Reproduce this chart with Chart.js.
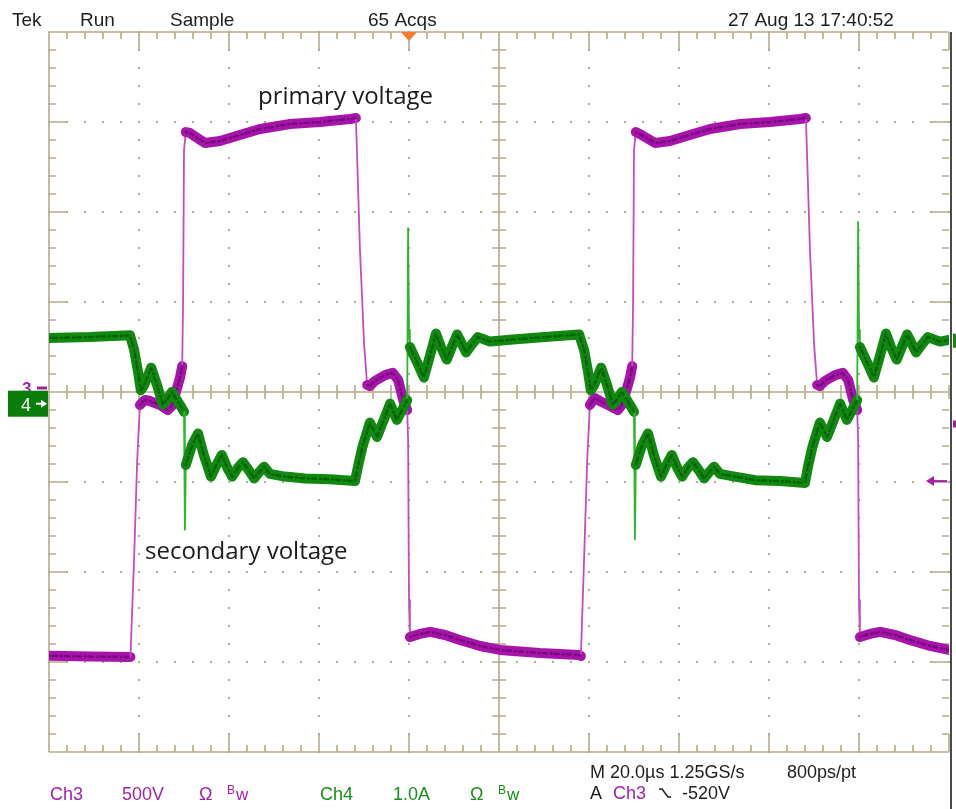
<!DOCTYPE html>
<html>
<head>
<meta charset="utf-8">
<title>Primary and secondary voltage</title>
<script src="https://cdn.jsdelivr.net/npm/chart.js@4.4.1/dist/chart.umd.min.js"></script>
<style>
html,body{margin:0;padding:0;background:#fff;overflow:hidden;}
#scope{display:block;}
</style>
</head>
<body>
<canvas id="scope" width="956" height="809"></canvas>
<script>
// Ch3 (primary voltage) samples: time in µs, value in volts
const ch3Time = [
  0, 9.1, 18.1, 18.9, 19.6, 20.2, 21.3, 22.4, 24.7, 26.4, 27.3, 28.2, 29.1, 29.6, 29.8, 30.0, 30.4, 31.3,
  34.7, 38.0, 42.4, 46.9, 53.6, 60.2, 66.9, 68.2, 68.7, 69.1, 69.6, 70.0, 70.7, 71.3, 72.4, 74.7, 76.4,
  77.6, 78.7, 79.6, 79.8, 80.0, 80.2, 82.4, 84.7, 88.0, 91.3, 95.8, 100.2, 109.1, 117.8,
  118.2, 118.9, 119.6, 120.2, 121.3, 122.4, 124.7, 126.4, 127.3, 128.2, 129.1, 129.6, 129.8, 130.0, 130.4,
  131.3, 134.7, 138.0, 142.4, 146.9, 153.6, 160.2, 166.9, 168.2, 168.7, 169.1, 169.6, 170.0, 170.7, 171.3,
  172.4, 174.7, 176.4, 177.6, 178.7, 179.6, 179.8, 180.0, 180.2, 182.4, 184.7, 188.0, 191.3, 195.8, 200.0
];
const ch3Volts = [
  -1490, -1495, -1497, -958, -403, -97, -69, -75, -97, -125, -103, -25, 53, 119, 486, 1319, 1419, 1414,
  1358, 1369, 1403, 1436, 1464, 1475, 1492, 1497, 1097, 764, 486, 247, 14, 8, 36, 69, 81,
  42, -69, -125, -292, -1181, -1386, -1369, -1358, -1375, -1403, -1436, -1458, -1475, -1486,
  -1492, -958, -403, -97, -58, -75, -103, -125, -97, -25, 53, 119, 486, 1319, 1419,
  1408, 1358, 1369, 1403, 1436, 1464, 1475, 1492, 1497, 1097, 764, 486, 247, 14, 8,
  36, 69, 81, 42, -69, -125, -292, -1181, -1386, -1369, -1358, -1375, -1403, -1436, -1458
];

// Ch4 (secondary) samples: time in µs, value in amps
const ch4Time = [
  0, 9.1, 18.0, 18.9, 19.8, 20.4, 21.1, 22.7, 24.0, 25.3, 26.4, 27.3, 28.2, 29.3, 30.0, 30.2, 30.4, 31.8,
  33.1, 34.4, 36.0, 37.1, 38.4, 39.6, 40.7, 42.0, 43.1, 44.4, 45.6, 46.7, 47.8, 49.1, 52.4, 56.9, 62.4,
  68.0, 68.7, 69.6, 71.3, 72.9, 75.8, 77.3, 78.9, 79.6, 79.8, 80.0, 80.2, 81.8, 83.3, 84.7, 86.0, 87.1,
  88.4, 89.6, 90.7, 91.8, 92.7, 94.0, 95.3, 98.0, 102.4, 110.2, 117.8,
  118.9, 119.8, 120.4, 121.1, 122.7, 124.0, 125.3, 126.4, 127.3, 128.2, 129.3, 130.0, 130.2, 130.4, 131.8,
  133.1, 134.4, 136.0, 137.1, 138.4, 139.6, 140.7, 142.0, 143.1, 144.4, 145.6, 146.7, 147.8, 149.1, 152.4,
  156.9, 162.4, 168.0, 168.7, 169.6, 171.3, 172.9, 175.8, 177.3, 178.9, 179.6, 179.8, 180.0, 180.2, 181.8,
  183.3, 184.7, 186.0, 187.1, 188.4, 189.6, 190.7, 191.8, 192.7, 194.0, 195.3, 198.0, 200.0
];
const ch4Amps = [
  0.73, 0.74, 0.76, 0.60, 0.35, 0.15, 0.20, 0.40, 0.21, -0.01, 0.06, 0.13, 0.06, -0.03, -0.09, -1.40, -0.68, -0.46,
  -0.33, -0.57, -0.81, -0.69, -0.57, -0.71, -0.81, -0.71, -0.65, -0.74, -0.83, -0.76, -0.70, -0.78, -0.81, -0.83, -0.84,
  -0.86, -0.69, -0.49, -0.21, -0.37, 0.00, -0.18, -0.03, 0.04, 1.95, 0.82, 0.63, 0.46, 0.29, 0.54, 0.78, 0.63,
  0.49, 0.64, 0.77, 0.66, 0.57, 0.66, 0.74, 0.69, 0.71, 0.74, 0.77,
  0.60, 0.35, 0.15, 0.20, 0.40, 0.21, -0.01, 0.06, 0.13, 0.06, -0.03, -0.09, -1.51, -0.68, -0.46,
  -0.33, -0.57, -0.81, -0.69, -0.57, -0.71, -0.81, -0.71, -0.65, -0.74, -0.83, -0.76, -0.70, -0.78, -0.81,
  -0.85, -0.86, -0.88, -0.69, -0.49, -0.21, -0.37, 0.00, -0.18, -0.03, 0.04, 2.02, 0.82, 0.63, 0.46,
  0.29, 0.54, 0.78, 0.63, 0.49, 0.64, 0.77, 0.66, 0.57, 0.66, 0.74, 0.69, 0.71
];

// Acquisition settings
const timePerDivUs = 20;
const divisionsX = 10;
const divisionsY = 8;
const ch3VoltsPerDiv = 500;
const ch3PositionDiv = 0.05;
const ch4AmpsPerDiv = 1.0;
const ch4PositionDiv = -0.13;
const triggerTimeUs = 80;
const triggerLevelV = -520;

const GRID = '#b5ab8c';
const MAGENTA = '#a614aa';
const MAGENTA_DARK = 'rgba(105,8,112,0.75)';
const MAGENTA_EDGE = '#c04cc4';
const GREEN = '#11880f';
const GREEN_DARK = 'rgba(0,88,0,0.75)';
const GREEN_EDGE = '#2fb42f';
const MAG_TEXT = '#a41fa8';
const GRN_TEXT = '#169016';

const toPoints = (xs, ys) => xs.map((t, i) => ({ x: t, y: ys[i] }));
const ch3Points = toPoints(ch3Time, ch3Volts);
const ch4Points = toPoints(ch4Time, ch4Amps);

// fast edges are drawn as a thin trace, flat parts as a noisy band
const steep = c => Math.abs(c.p1.y - c.p0.y) > 8 * Math.max(Math.abs(c.p1.x - c.p0.x), 0.01);

const graticule = {
  id: 'graticule',
  beforeDatasetsDraw(chart) {
    const { ctx, chartArea: a, scales } = chart;
    const xs = scales.x, ys = scales.yd;
    const minorX = [], minorY = [];
    for (let i = 0; i <= divisionsX * 5; i++) minorX.push(xs.getPixelForValue(i * timePerDivUs / 5));
    for (let j = 0; j <= divisionsY * 5; j++) minorY.push(ys.getPixelForValue(-divisionsY / 2 + j / 5));
    const cx = xs.getPixelForValue(divisionsX / 2 * timePerDivUs);
    const cy = ys.getPixelForValue(0);
    ctx.save();
    ctx.fillStyle = GRID;
    // dotted major lines
    for (let i = 1; i < divisionsX; i++) {
      if (i === divisionsX / 2) continue;
      const px = xs.getPixelForValue(i * timePerDivUs);
      minorY.forEach(py => ctx.fillRect(Math.round(px) - 1, Math.round(py) - 1, 2, 2));
    }
    for (let j = 1; j < divisionsY; j++) {
      if (j === divisionsY / 2) continue;
      const py = ys.getPixelForValue(-divisionsY / 2 + j);
      minorX.forEach(px => ctx.fillRect(Math.round(px) - 1, Math.round(py) - 1, 2, 2));
    }
    ctx.strokeStyle = GRID;
    ctx.lineWidth = 1.6;
    ctx.beginPath();
    // frame
    ctx.moveTo(a.left, a.bottom); ctx.lineTo(a.left, a.top); ctx.lineTo(a.right, a.top);
    ctx.moveTo(a.left, a.bottom); ctx.lineTo(a.right, a.bottom);
    // centre cross
    ctx.moveTo(a.left, cy); ctx.lineTo(a.right, cy);
    ctx.moveTo(cx, a.top); ctx.lineTo(cx, a.bottom);
    minorX.forEach((px, i) => {
      const len = i % 5 === 0 ? 18 : 7;
      ctx.moveTo(px, a.top); ctx.lineTo(px, a.top + len);
      ctx.moveTo(px, a.bottom); ctx.lineTo(px, a.bottom - len);
      ctx.moveTo(px, cy - 7); ctx.lineTo(px, cy + 7);
    });
    minorY.forEach((py, j) => {
      const len = j % 5 === 0 ? 18 : 7;
      ctx.moveTo(a.left, py); ctx.lineTo(a.left + len, py);
      ctx.moveTo(a.right, py); ctx.lineTo(a.right - len, py);
      ctx.moveTo(cx - 7, py); ctx.lineTo(cx + 7, py);
    });
    ctx.stroke();
    // right screen edge
    ctx.fillStyle = '#4a4a4a';
    ctx.fillRect(a.right + 1, a.top, 2, chart.height - a.top);
    ctx.restore();
  }
};

const labels = {
  id: 'labels',
  afterDraw(chart) {
    const { ctx, chartArea: a, scales } = chart;
    ctx.save();
    ctx.textBaseline = 'alphabetic';
    // status line
    ctx.fillStyle = '#1e1e1e';
    ctx.font = '19px "Liberation Sans", Arial, sans-serif';
    ctx.fillText('Tek', 12, 26);
    ctx.fillText('Run', 80, 26);
    ctx.fillText('Sample', 170, 26);
    ctx.fillText('65 Acqs', 368, 26);
    ctx.fillText('27 Aug 13 17:40:52', 728, 26);

    // trigger position marker
    const tx = scales.x.getPixelForValue(triggerTimeUs);
    ctx.fillStyle = '#fa7a2a';
    ctx.beginPath();
    ctx.moveTo(tx - 8, a.top); ctx.lineTo(tx + 8, a.top); ctx.lineTo(tx, a.top + 9); ctx.closePath();
    ctx.fill();

    // trigger level arrow
    const ty = scales.y3.getPixelForValue(triggerLevelV);
    ctx.strokeStyle = MAG_TEXT; ctx.fillStyle = MAG_TEXT; ctx.lineWidth = 2;
    ctx.beginPath(); ctx.moveTo(a.right - 2, ty); ctx.lineTo(a.right - 20, ty); ctx.stroke();
    ctx.beginPath(); ctx.moveTo(a.right - 23, ty); ctx.lineTo(a.right - 15, ty - 5); ctx.lineTo(a.right - 15, ty + 5); ctx.closePath(); ctx.fill();

    // small edge markers
    ctx.fillRect(953, scales.y3.getPixelForValue(-200) - 3, 3, 7);
    ctx.fillStyle = GREEN;
    ctx.fillRect(953, scales.y4.getPixelForValue(0.7) - 7, 3, 14);

    // channel ground markers
    const g3 = scales.y3.getPixelForValue(0);
    const g4 = scales.y4.getPixelForValue(0);
    ctx.fillStyle = MAG_TEXT;
    ctx.font = 'bold 17px "Liberation Sans", Arial, sans-serif';
    ctx.fillText('3', 22, g3 + 6);
    ctx.fillRect(37, g3 - 1, 10, 3);
    ctx.fillStyle = '#0b7d0b';
    ctx.fillRect(8, g4 - 13, 40, 26);
    ctx.fillStyle = '#ffffff';
    ctx.font = '18px "Liberation Sans", Arial, sans-serif';
    ctx.fillText('4', 21, g4 + 7);
    ctx.strokeStyle = '#ffffff'; ctx.lineWidth = 2;
    ctx.beginPath(); ctx.moveTo(36, g4); ctx.lineTo(43, g4); ctx.stroke();
    ctx.beginPath(); ctx.moveTo(47, g4); ctx.lineTo(41, g4 - 4); ctx.lineTo(41, g4 + 4); ctx.closePath(); ctx.fill();

    // trace annotations
    ctx.fillStyle = '#1b1b1b';
    ctx.font = '24px "Open Sans", "Noto Sans", sans-serif';
    ctx.fillText('primary voltage', 258, 104);
    ctx.fillText('secondary voltage', 145, 559);

    // channel readouts
    ctx.font = '18px "Liberation Sans", Arial, sans-serif';
    ctx.fillStyle = MAG_TEXT;
    ctx.fillText('Ch3', 50, 800);
    ctx.fillText('500V', 122, 800);
    ctx.fillText('Ω', 199, 800);
    ctx.font = '12px "Liberation Sans", Arial, sans-serif';
    ctx.fillText('B', 227, 794);
    ctx.font = '17px "Liberation Sans", Arial, sans-serif';
    ctx.fillText('w', 236, 800);
    ctx.font = '18px "Liberation Sans", Arial, sans-serif';
    ctx.fillStyle = GRN_TEXT;
    ctx.fillText('Ch4', 320, 800);
    ctx.fillText('1.0A', 393, 800);
    ctx.fillText('Ω', 470, 800);
    ctx.font = '12px "Liberation Sans", Arial, sans-serif';
    ctx.fillText('B', 498, 794);
    ctx.font = '17px "Liberation Sans", Arial, sans-serif';
    ctx.fillText('w', 507, 800);

    // timebase and trigger readouts
    ctx.font = '18px "Liberation Sans", Arial, sans-serif';
    ctx.fillStyle = '#1e1e1e';
    ctx.fillText('M 20.0µs 1.25GS/s', 590, 778);
    ctx.fillText('800ps/pt', 787, 778);
    ctx.fillText('A', 590, 799);
    ctx.fillText('-520V', 682, 799);
    ctx.fillStyle = MAG_TEXT;
    ctx.fillText('Ch3', 613, 799);
    ctx.strokeStyle = '#1e1e1e'; ctx.lineWidth = 1.5;
    ctx.beginPath(); ctx.moveTo(659, 789); ctx.lineTo(662, 789); ctx.lineTo(668, 797); ctx.lineTo(671, 797); ctx.stroke();
    ctx.restore();
  }
};

new Chart(document.getElementById('scope'), {
  type: 'line',
  data: {
    datasets: [
      {
        data: ch4Points, yAxisID: 'y4', order: 0,
        borderColor: GREEN_DARK, borderWidth: 2.5, borderDash: [1, 3, 4, 4],
        segment: { borderColor: c => steep(c) ? 'rgba(0,0,0,0)' : GREEN_DARK }
      },
      {
        data: ch4Points, yAxisID: 'y4', order: 1,
        borderColor: GREEN, borderWidth: 10,
        segment: {
          borderWidth: c => steep(c) ? 1.8 : 10,
          borderColor: c => steep(c) ? GREEN_EDGE : GREEN
        }
      },
      {
        data: ch3Points, yAxisID: 'y3', order: 2,
        borderColor: MAGENTA_DARK, borderWidth: 2.5, borderDash: [1, 3, 4, 4],
        segment: { borderColor: c => steep(c) ? 'rgba(0,0,0,0)' : MAGENTA_DARK }
      },
      {
        data: ch3Points, yAxisID: 'y3', order: 3,
        borderColor: MAGENTA, borderWidth: 10,
        segment: {
          borderWidth: c => steep(c) ? 1.8 : 10,
          borderColor: c => steep(c) ? MAGENTA_EDGE : MAGENTA
        }
      }
    ]
  },
  options: {
    responsive: false,
    animation: false,
    events: [],
    layout: { padding: { left: 49, top: 32, right: 7, bottom: 57 } },
    plugins: { legend: { display: false }, tooltip: { enabled: false } },
    elements: {
      point: { radius: 0 },
      line: { tension: 0, borderCapStyle: 'round', borderJoinStyle: 'round' }
    },
    scales: {
      x: { type: 'linear', min: 0, max: divisionsX * timePerDivUs, display: false },
      yd: { type: 'linear', min: -divisionsY / 2, max: divisionsY / 2, display: false },
      y3: {
        type: 'linear', display: false,
        min: (-divisionsY / 2 - ch3PositionDiv) * ch3VoltsPerDiv,
        max: (divisionsY / 2 - ch3PositionDiv) * ch3VoltsPerDiv
      },
      y4: {
        type: 'linear', display: false,
        min: (-divisionsY / 2 - ch4PositionDiv) * ch4AmpsPerDiv,
        max: (divisionsY / 2 - ch4PositionDiv) * ch4AmpsPerDiv
      }
    }
  },
  plugins: [graticule, labels]
});
</script>
</body>
</html>
